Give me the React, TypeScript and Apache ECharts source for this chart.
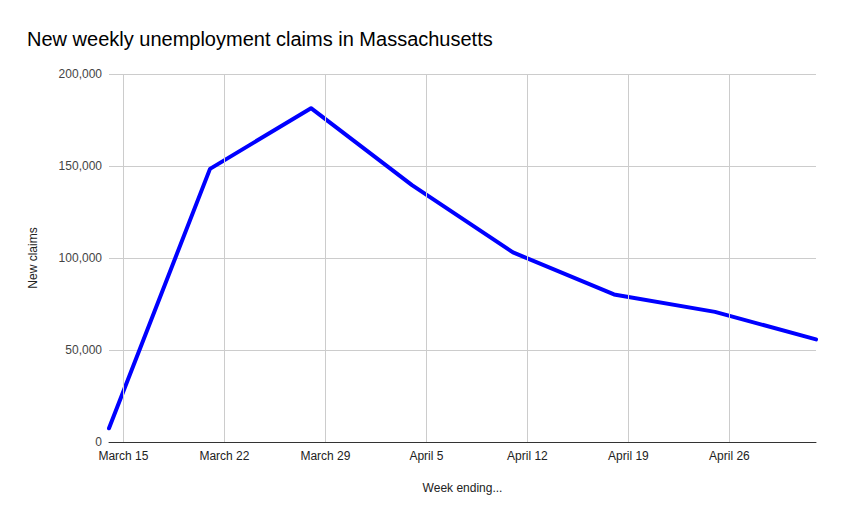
import React, { useEffect, useRef } from "react";
import * as echarts from "echarts";

const weekEnding = [
  "2020-03-14",
  "2020-03-21",
  "2020-03-28",
  "2020-04-04",
  "2020-04-11",
  "2020-04-18",
  "2020-04-25",
  "2020-05-02",
];
const newClaims = [7450, 148450, 181420, 139650, 103040, 80210, 70710, 55770];
const xTickDates = [
  "2020-03-15",
  "2020-03-22",
  "2020-03-29",
  "2020-04-05",
  "2020-04-12",
  "2020-04-19",
  "2020-04-26",
];
const yTicks = [0, 50000, 100000, 150000, 200000];

const MONTHS = ["January", "February", "March", "April", "May", "June", "July", "August", "September", "October", "November", "December"];

const EPOCH = Date.UTC(2020, 2, 1);
const DAY = 86400000;

function dayNum(d: string): number {
  const [y, m, dd] = d.split("-").map(Number);
  return Math.round((Date.UTC(y, m - 1, dd) - EPOCH) / DAY);
}
function dayLabel(v: number): string {
  const d = new Date(EPOCH + Math.round(v) * DAY);
  return MONTHS[d.getUTCMonth()] + " " + d.getUTCDate();
}

const FONT = "Arial, 'Liberation Sans', sans-serif";

export default function App() {
  const ref = useRef<HTMLDivElement>(null);
  useEffect(() => {
    if (!ref.current) return;
    const chart = echarts.init(ref.current, undefined, { renderer: "svg" });
    const data = weekEnding.map((d, i) => [dayNum(d), newClaims[i]]);
    const tickVals = xTickDates.map(dayNum);
    chart.setOption({
      animation: false,
      backgroundColor: "#ffffff",
      title: {
        text: "New weekly unemployment claims in Massachusetts",
        left: 22,
        top: 24,
        textStyle: { fontFamily: FONT, fontSize: 20, fontWeight: "normal", color: "#000000" },
      },
      grid: { left: 109, right: 27, top: 74, bottom: 79, containLabel: false },
      xAxis: {
        type: "value",
        min: dayNum(weekEnding[0]),
        max: dayNum(weekEnding[weekEnding.length - 1]),
        name: "Week ending...",
        nameLocation: "middle",
        nameGap: 40,
        nameTextStyle: { fontFamily: FONT, fontSize: 12, color: "#222222" },
        axisLine: { show: true, onZero: false, lineStyle: { color: "#333333", width: 1 } },
        axisTick: { show: false, customValues: tickVals },
        axisLabel: {
          customValues: tickVals,
          fontFamily: FONT,
          fontSize: 12,
          color: "#222222",
          margin: 8,
          formatter: (v: number) => dayLabel(v),
        },
        splitLine: { show: false },
      },
      yAxis: {
        type: "value",
        min: yTicks[0],
        max: yTicks[yTicks.length - 1],
        interval: yTicks[1] - yTicks[0],
        name: "New claims",
        nameLocation: "middle",
        nameRotate: 90,
        nameGap: 70,
        nameTextStyle: { fontFamily: FONT, fontSize: 12, color: "#222222" },
        axisLine: { show: false },
        axisTick: { show: false },
        axisLabel: {
          fontFamily: FONT,
          fontSize: 12,
          color: "#444444",
          margin: 7,
          formatter: (v: number) => v.toLocaleString("en-US"),
        },
        splitLine: { show: true, lineStyle: { color: "#cccccc", width: 1 } },
      },
      series: [
        {
          type: "line",
          data: [],
          z: 1,
          silent: true,
          markLine: {
            silent: true,
            symbol: "none",
            label: { show: false },
            lineStyle: { color: "#cccccc", width: 1, type: "solid" },
            emphasis: { disabled: true },
            data: tickVals.map((v) => ({ xAxis: v })),
          },
        },
        {
          type: "line",
          data,
          z: 3,
          showSymbol: false,
          symbol: "none",
          lineStyle: { color: "#0000ff", width: 4, join: "round", cap: "round" },
          itemStyle: { color: "#0000ff" },
        },
      ],
    });
    return () => chart.dispose();
  }, []);
  return <div ref={ref} style={{ width: 843, height: 521, position: "absolute", left: 0, top: 0 }} />;
}
